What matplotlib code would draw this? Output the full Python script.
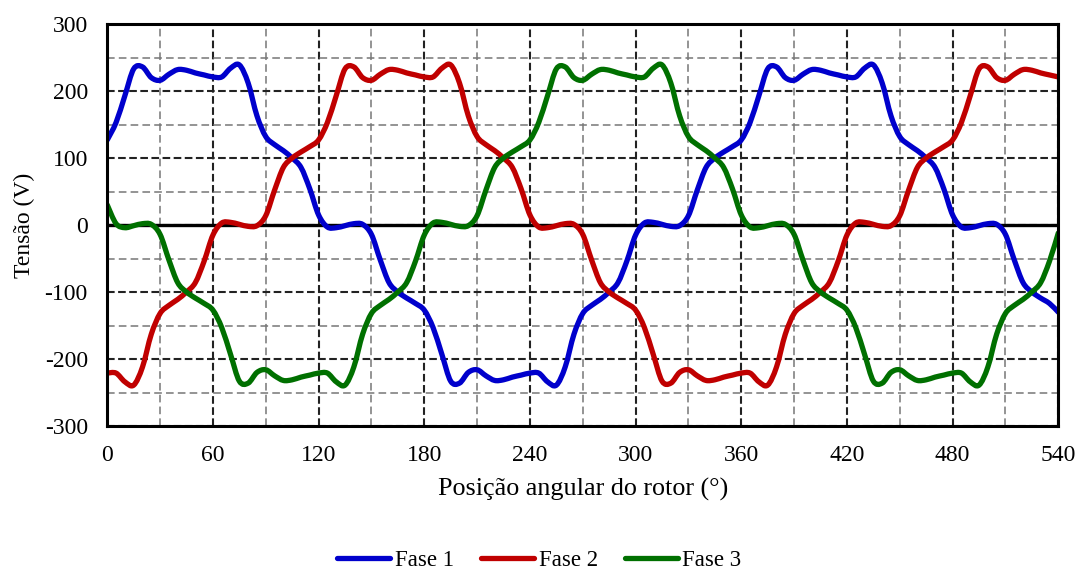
import matplotlib
matplotlib.use("Agg")
import matplotlib.pyplot as plt
import numpy as np
from matplotlib.ticker import MultipleLocator
from matplotlib.path import Path
from matplotlib.patches import PathPatch
from matplotlib.lines import Line2D

plt.rcParams["font.family"] = ["Liberation Serif", "DejaVu Serif"]
plt.rcParams["lines.scale_dashes"] = False
plt.rcParams["axes.unicode_minus"] = False

# Rotor angle (degrees), one sample every 5 degrees
angle = list(range(0, 545, 5))

# Phase voltages (V)
fase1 = [127, 153, 193, 233, 236, 220, 216, 225, 232, 231, 227, 224, 221, 221, 234, 239, 212, 163,
         132, 120, 111, 100, 86, 54, 15, -3, -4, -1, 2, 1, -14, -52, -86, -100, -109, -117,
         -127, -153, -193, -233, -236, -220, -216, -225, -232, -231, -227, -224, -221, -221, -234, -239, -212, -163,
         -132, -120, -111, -100, -86, -54, -15, 3, 4, 1, -2, -1, 14, 52, 86, 100, 109, 117,
         127, 153, 193, 233, 236, 220, 216, 225, 232, 231, 227, 224, 221, 221, 234, 239, 212, 163,
         132, 120, 111, 100, 86, 54, 15, -3, -4, -1, 2, 1, -14, -52, -86, -100, -109, -117, -130]

fase2 = [-221, -221, -234, -239, -212, -163, -132, -120, -111, -100, -86, -54,
         -15, 3, 4, 1, -2, -1, 14, 52, 86, 100, 109, 117,
         127, 153, 193, 233, 236, 220, 216, 225, 232, 231, 227, 224, 221, 221, 234, 239, 212, 163,
         132, 120, 111, 100, 86, 54, 15, -3, -4, -1, 2, 1, -14, -52, -86, -100, -109, -117,
         -127, -153, -193, -233, -236, -220, -216, -225, -232, -231, -227, -224, -221, -221, -234, -239, -212, -163,
         -132, -120, -111, -100, -86, -54, -15, 3, 4, 1, -2, -1, 14, 52, 86, 100, 109, 117,
         127, 153, 193, 233, 236, 220, 216, 225, 232, 231, 227, 224, 221]

fase3 = [30, 2, -4, -1, 2, 1, -14, -52, -86, -100, -109, -117,
         -127, -153, -193, -233, -236, -220, -216, -225, -232, -231, -227, -224, -221, -221, -234, -239, -212, -163,
         -132, -120, -111, -100, -86, -54, -15, 3, 4, 1, -2, -1, 14, 52, 86, 100, 109, 117,
         127, 153, 193, 233, 236, 220, 216, 225, 232, 231, 227, 224, 221, 221, 234, 239, 212, 163,
         132, 120, 111, 100, 86, 54, 15, -3, -4, -1, 2, 1, -14, -52, -86, -100, -109, -117,
         -127, -153, -193, -233, -236, -220, -216, -225, -232, -231, -227, -224, -221, -221, -234, -239, -212, -163,
         -132, -120, -111, -100, -86, -54, -12]

series_labels = ["Fase 1", "Fase 2", "Fase 3"]
series_colors = ["#0000CC", "#C00000", "#007000"]
LINE_W = 3.8


def smooth_path(xs, ys):
    """Smoothed polyline through the samples (cubic Bezier segments, Catmull-Rom tangents)."""
    p = np.column_stack([xs, ys]).astype(float)
    ext = np.vstack([p[0], p, p[-1]])
    verts = [p[0]]
    codes = [Path.MOVETO]
    for i in range(len(p) - 1):
        p0, p1, p2, p3 = ext[i], ext[i + 1], ext[i + 2], ext[i + 3]
        c1 = p1 + (p2 - p0) / 6.0
        c2 = p2 - (p3 - p1) / 6.0
        verts += [c1, c2, p2]
        codes += [Path.CURVE4] * 3
    return Path(np.array(verts), codes)


fig = plt.figure(figsize=(10.79, 5.72), dpi=100)
ax = fig.add_axes([0.0994, 0.2552, 0.8814, 0.7028])

ax.set_xlim(0, 540)
ax.set_ylim(-300, 300)
ax.xaxis.set_major_locator(MultipleLocator(60))
ax.xaxis.set_minor_locator(MultipleLocator(30))
ax.yaxis.set_major_locator(MultipleLocator(100))
ax.yaxis.set_minor_locator(MultipleLocator(50))

ax.grid(which="minor", color="#777777", linewidth=1.1, linestyle=(0, (5.5, 3.0)))
ax.grid(which="major", color="#222222", linewidth=1.5, linestyle=(0, (5.5, 2.5)))
ax.set_axisbelow(True)

ax.axhline(0, color="black", linewidth=2.4, zorder=2)

handles = []
for values, lab, col in zip([fase1, fase2, fase3], series_labels, series_colors):
    patch = PathPatch(smooth_path(angle, values), facecolor="none", edgecolor=col,
                      linewidth=LINE_W, joinstyle="round", capstyle="round", zorder=3)
    ax.add_patch(patch)
    handles.append(Line2D([], [], color=col, linewidth=LINE_W, solid_capstyle="round", label=lab))

for sp in ax.spines.values():
    sp.set_linewidth(2.2)
    sp.set_color("black")
    sp.set_zorder(4)

ax.tick_params(which="both", length=0)
ax.tick_params(axis="x", labelsize=17, pad=14)
ax.tick_params(axis="y", labelsize=17, pad=14)

ax.set_xlabel("Posição angular do rotor (°)", fontsize=18.8, labelpad=8)
ax.set_ylabel("Tensão (V)", fontsize=17, labelpad=7)

fig.legend(handles=handles, loc="center", bbox_to_anchor=(0.5, 0.02), ncol=3, frameon=False,
           fontsize=16.5, handlelength=2.3, handletextpad=0.2, columnspacing=1.2)

fig.savefig("out.png", dpi=100)
